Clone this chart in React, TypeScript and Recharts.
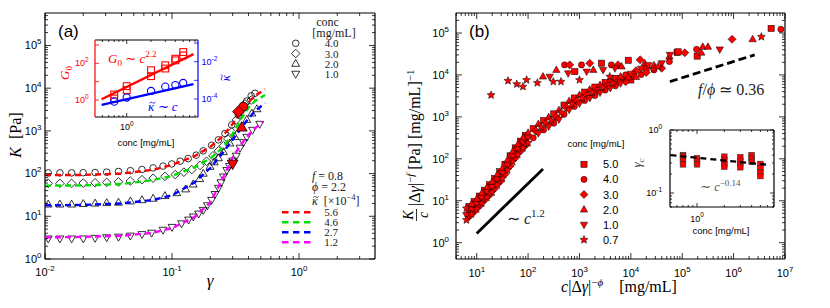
import React from 'react';
import { ScatterChart, Scatter, XAxis, YAxis } from 'recharts';

type Pt = [number, number];

const W = 830;
const H = 308;
const SANS = "'Liberation Sans', Arial, Helvetica, sans-serif";
const SERIF = "'Liberation Serif', 'Times New Roman', serif";

// ---------- panel (a): K vs gamma, one open symbol per concentration ----------
const concA = ['4.0', '3.0', '2.0', '1.0'];
const kindsA = ['circle', 'diamond', 'up', 'down'];
const kappaA = ['5.6', '4.6', '2.7', '1.2'];
const fitColors = ['#ff0000', '#00e000', '#0000ff', '#ff00ff'];

const kConc40: Pt[] = [
  [0.0106, 104], [0.0131, 104], [0.0162, 104], [0.02, 105], [0.0248, 106], [0.0306, 108],
  [0.0379, 112], [0.047, 117], [0.058, 125], [0.071, 136], [0.085, 150], [0.0995, 168],
  [0.116, 195], [0.134, 225], [0.155, 270], [0.176, 340], [0.205, 460], [0.232, 617],
  [0.261, 870], [0.295, 1380], [0.333, 2340], [0.36, 3500], [0.388, 5000], [0.42, 6600], [0.45, 7600],
];
const kConc30: Pt[] = [
  [0.0106, 59], [0.0131, 59], [0.0162, 59], [0.02, 60], [0.0248, 61], [0.0306, 62],
  [0.0379, 64], [0.047, 67], [0.058, 72], [0.071, 78], [0.088, 86], [0.106, 95],
  [0.124, 108], [0.143, 124], [0.166, 155], [0.187, 195], [0.21, 260], [0.232, 340],
  [0.254, 450], [0.275, 650], [0.295, 950], [0.32, 1800], [0.345, 2800], [0.375, 4300], [0.42, 5250],
];
const kConc20: Pt[] = [
  [0.0106, 19], [0.0131, 19], [0.0162, 19], [0.02, 19.5], [0.0248, 20], [0.0306, 20.5],
  [0.0379, 21], [0.047, 22.5], [0.058, 24], [0.071, 26], [0.088, 30], [0.109, 35],
  [0.128, 43], [0.147, 56], [0.165, 75], [0.176, 100], [0.199, 145], [0.215, 185],
  [0.232, 230], [0.254, 320], [0.285, 510], [0.313, 720], [0.354, 1200], [0.388, 1820],
  [0.425, 2570], [0.466, 3240],
];
const kConc10: Pt[] = [
  [0.0106, 3.0], [0.0131, 3.0], [0.0162, 3.0], [0.02, 3.0], [0.0248, 3.1], [0.0306, 3.2],
  [0.0379, 3.3], [0.047, 3.5], [0.058, 3.8], [0.069, 4.1], [0.085, 4.8], [0.1, 5.6],
  [0.119, 6.8], [0.135, 8.3], [0.147, 9.8], [0.162, 11.5], [0.176, 14], [0.19, 18],
  [0.205, 24], [0.218, 33], [0.232, 46], [0.243, 62], [0.254, 85], [0.27, 120],
  [0.283, 150], [0.3, 200], [0.32, 260], [0.343, 400], [0.365, 540], [0.388, 720],
  [0.43, 1050], [0.49, 1450],
];
const fit56: Pt[] = [
  [0.01, 92], [0.02, 93], [0.04, 100], [0.07, 122], [0.1, 160], [0.15, 255], [0.2, 420],
  [0.25, 750], [0.3, 1450], [0.35, 2800], [0.4, 4700], [0.45, 6600], [0.54, 9400],
];
const fit46: Pt[] = [
  [0.01, 52], [0.02, 53], [0.04, 57], [0.07, 70], [0.1, 88], [0.15, 140], [0.2, 225],
  [0.25, 400], [0.3, 850], [0.35, 1900], [0.4, 3500], [0.45, 5000], [0.54, 6900],
];
const fit27: Pt[] = [
  [0.01, 18], [0.02, 18.5], [0.04, 20], [0.07, 24], [0.1, 31], [0.15, 62], [0.2, 135],
  [0.25, 300], [0.3, 620], [0.35, 1150], [0.4, 1950], [0.45, 2900], [0.54, 4470],
];
const fit12: Pt[] = [
  [0.01, 3.2], [0.02, 3.3], [0.04, 3.5], [0.07, 4.1], [0.1, 5.3], [0.15, 9.5], [0.2, 21],
  [0.25, 75], [0.3, 240], [0.35, 480], [0.4, 800], [0.45, 1150], [0.52, 1650],
];
const critA: Pt[] = [[0.364, 3700], [0.333, 2820], [0.354, 1200], [0.3, 170]];

// inset (a): G0 and kappa vs concentration
const insetConc = [0.7, 1, 2, 3, 4, 5];
const g0Upper = [2.0, 5.7, 42, 78, 178, 410];
const g0Lower = [1.2, 3.5, 20, 52, 145, 270];
const kappaVals = [0.72e-4, 1.2e-4, 2.7e-4, 4.6e-4, 5.6e-4, 7.2e-4];
const g0Fit: Pt[] = [[0.49, 1.1], [6.7, 316]];
const kappaFit: Pt[] = [[0.49, 4.8e-5], [6.7, 6.3e-4]];

// ---------- panel (b): collapsed data, [log10 c|dg|^-phi, log10 K/c|dg|^-f] ----------
const concB = ['5.0', '4.0', '3.0', '2.0', '1.0', '0.7'];
const kindsB = ['square', 'circle', 'diamond', 'up', 'down', 'star'];
const b50: Pt[] = [
  [0.85, 0.86], [0.95, 0.98], [1.05, 1.11], [1.15, 1.25], [1.25, 1.38], [1.35, 1.53], [1.45, 1.69],
  [1.55, 1.87], [1.65, 2.07], [1.75, 2.26], [1.85, 2.42], [1.95, 2.56], [2.1, 2.72], [2.3, 2.91],
  [2.5, 3.07], [2.7, 3.28], [2.9, 3.45], [3.1, 3.59], [3.3, 3.71], [3.5, 3.82], [3.7, 3.92],
  [3.85, 3.9], [4.0, 3.88], [4.3, 4.18], [4.9, 4.54],
  [2.91, 4.08], [3.43, 4.28], [3.95, 4.35], [4.92, 4.55], [5.29, 4.45], [6.73, 5.11],
];
const b40: Pt[] = [
  [0.85, 0.75], [0.95, 0.87], [1.05, 0.98], [1.15, 1.12], [1.25, 1.25], [1.35, 1.4], [1.45, 1.56],
  [1.55, 1.74], [1.65, 1.94], [1.75, 2.13], [1.85, 2.29], [1.95, 2.43], [2.1, 2.5], [2.3, 2.69],
  [2.5, 2.85], [2.7, 3.06], [2.9, 3.25], [3.1, 3.39], [3.3, 3.51], [3.5, 3.64], [3.7, 3.74],
  [3.9, 4.0], [4.05, 3.99], [4.2, 4.01], [4.45, 4.12], [4.75, 4.32],
  [2.71, 4.24], [3.04, 4.24], [3.62, 4.24], [4.44, 4.16], [5.28, 4.61], [6.92, 5.09],
];
const b30: Pt[] = [
  [0.85, 0.62], [0.95, 0.74], [1.05, 0.87], [1.15, 1.01], [1.25, 1.14], [1.35, 1.29], [1.45, 1.45],
  [1.55, 1.63], [1.65, 1.83], [1.75, 2.02], [1.85, 2.18], [1.95, 2.32], [2.15, 2.66], [2.35, 2.84],
  [2.55, 3.0], [2.75, 3.22], [2.95, 3.38], [3.15, 3.52], [3.35, 3.64], [3.55, 3.75], [3.75, 3.85],
  [3.9, 3.84], [4.1, 4.1], [4.3, 4.06], [4.6, 4.16],
  [2.81, 4.24], [3.2, 4.28], [3.75, 4.24], [4.18, 4.36], [5.05, 4.53], [5.97, 4.85],
];
const b20: Pt[] = [
  [0.9, 0.92], [1.0, 1.04], [1.1, 1.18], [1.2, 1.32], [1.3, 1.45], [1.4, 1.62], [1.5, 1.77],
  [1.6, 1.97], [1.7, 2.17], [1.8, 2.34], [1.9, 2.5], [2.0, 2.62], [2.2, 2.83], [2.4, 2.99],
  [2.6, 3.16], [2.8, 3.38], [3.0, 3.52], [3.2, 3.65], [3.4, 3.76], [3.6, 3.87], [3.8, 3.96],
  [3.95, 3.94], [4.1, 3.95], [4.45, 4.23], [4.75, 4.44],
  [2.29, 3.96], [2.55, 4.12], [3.27, 4.12], [3.82, 4.2], [4.27, 4.28], [5.37, 4.53],
  [5.4, 4.67], [5.5, 4.67], [6.37, 4.85],
];
const b10: Pt[] = [
  [0.8, 0.66], [0.9, 0.79], [1.0, 0.93], [1.1, 1.07], [1.2, 1.21], [1.3, 1.33], [1.4, 1.51],
  [1.5, 1.66], [1.6, 1.86], [1.7, 2.06], [1.8, 2.23], [1.9, 2.39], [2.0, 2.51], [2.2, 2.61],
  [2.4, 2.77], [2.6, 2.94], [2.8, 3.17], [3.0, 3.32], [3.2, 3.45], [3.4, 3.58], [3.6, 3.69],
  [3.8, 3.8], [4.0, 4.03], [4.2, 4.15], [4.6, 4.28],
  [2.42, 3.96], [2.78, 4.04], [3.14, 4.08], [3.46, 4.12], [3.69, 4.16], [4.34, 4.24],
  [4.76, 4.48], [5.73, 4.61],
];
const b07: Pt[] = [
  [0.8, 0.82], [0.8, 0.54], [0.9, 0.68], [1.0, 0.8], [1.1, 0.94], [1.2, 1.08], [1.3, 1.2],
  [1.4, 1.38], [1.5, 1.53], [1.6, 1.73], [1.7, 1.93], [1.8, 2.1], [1.9, 2.26], [2.0, 2.38],
  [2.25, 2.76], [2.45, 2.92], [2.65, 3.11], [2.85, 3.31], [3.05, 3.45], [3.25, 3.58],
  [3.45, 3.7], [3.65, 3.8],
  [1.28, 3.52], [1.61, 3.86], [1.78, 3.78], [1.9, 3.72], [1.97, 3.88], [2.18, 3.81],
  [2.49, 3.84], [2.64, 3.84], [3.0, 3.88], [3.59, 3.96], [4.53, 4.2], [6.54, 4.91],
];
const slope12: Pt[] = [[1.0, 0.22], [2.29, 1.76]];
const slope036: Pt[] = [[4.76, 3.84], [6.41, 4.48]];

// inset (b): gamma_c vs concentration
const gcConc = [0.7, 1, 2, 3, 4, 5];
const gcValues = [
  [0.4, 0.38, 0.33, 0.285],
  [0.355, 0.315, 0.285],
  [0.377, 0.334, 0.289, 0.262],
  [0.37, 0.325, 0.289, 0.256],
  [0.4, 0.355, 0.314],
  [0.289, 0.246, 0.213, 0.186],
];
const gcFit: Pt[] = [[0.51, 0.4], [6.4, 0.278]];

// ---------- helpers ----------
const xy = (pts: Pt[]) => pts.map(([x, y]) => ({ x, y }));
const fromLog = (pts: Pt[]) => pts.map(([lx, ly]) => ({ x: 10 ** lx, y: 10 ** ly }));

function logTicks(lo: number, hi: number, minors = true) {
  const out: number[] = [];
  for (let e = Math.floor(lo); e <= Math.ceil(hi); e++) {
    for (let m = 1; m < 10; m++) {
      if (!minors && m > 1) continue;
      const v = m * 10 ** e;
      const l = Math.log10(v);
      if (l >= lo - 1e-9 && l <= hi + 1e-9) out.push(v);
    }
  }
  return out;
}

type Side = 'bottom' | 'top' | 'left' | 'right';
interface TickOpt {
  side: Side;
  major: number;
  minor: number;
  fs?: number;
  off?: number;
  color?: string;
  labels?: number[];
}

function tickRenderer(o: TickOpt) {
  return (p: any) => {
    const v = p.payload.value as number;
    const lg = Math.log10(v);
    const e = Math.round(lg);
    const isMajor = Math.abs(lg - e) < 1e-6;
    const len = isMajor ? o.major : o.minor;
    const { x, y } = p;
    const color = o.color || '#000';
    let line;
    if (o.side === 'bottom') line = <line x1={x} y1={y} x2={x} y2={y - len} />;
    else if (o.side === 'top') line = <line x1={x} y1={y} x2={x} y2={y + len} />;
    else if (o.side === 'left') line = <line x1={x} y1={y} x2={x + len} y2={y} />;
    else line = <line x1={x} y1={y} x2={x - len} y2={y} />;
    const fs = o.fs || 11;
    let label = null;
    if (isMajor && o.labels && o.labels.includes(e)) {
      const sup = <tspan dy={-fs * 0.45} fontSize={fs * 0.72}>{e < 0 ? `-${-e}` : `${e}`}</tspan>;
      const off = o.off || 0;
      const anchor = o.side === 'bottom' ? 'middle' : o.side === 'left' ? 'end' : 'start';
      const tx = o.side === 'bottom' ? x : o.side === 'left' ? x - off : x + off;
      const ty = o.side === 'bottom' ? y + off : y + fs * 0.35;
      label = (
        <text x={tx} y={ty} textAnchor={anchor} fontSize={fs} fontFamily={SANS} fill={color} stroke="none">
          <tspan>10</tspan>
          {sup}
        </text>
      );
    }
    return (
      <g>
        <g stroke={color} strokeWidth={0.8}>{line}</g>
        {label}
      </g>
    );
  };
}

const starPoints = (cx: number, cy: number, r: number) => {
  const pts: string[] = [];
  for (let i = 0; i < 10; i++) {
    const rr = i % 2 === 0 ? r : r * 0.45;
    const a = -Math.PI / 2 + (i * Math.PI) / 5;
    pts.push(`${cx + rr * Math.cos(a)},${cy + rr * Math.sin(a)}`);
  }
  return pts.join(' ');
};

function Mark({ cx, cy, kind, r, fill, stroke, sw }: any) {
  if (cx == null || cy == null || isNaN(cx) || isNaN(cy)) return <g />;
  const common = { fill, stroke, strokeWidth: sw };
  switch (kind) {
    case 'square':
      return <rect x={cx - r} y={cy - r} width={2 * r} height={2 * r} {...common} />;
    case 'diamond': {
      const d = r * 1.3;
      return <polygon points={`${cx},${cy - d} ${cx + d},${cy} ${cx},${cy + d} ${cx - d},${cy}`} {...common} />;
    }
    case 'up':
      return (
        <polygon
          points={`${cx},${cy - r * 1.3} ${cx + r * 1.2},${cy + r * 0.8} ${cx - r * 1.2},${cy + r * 0.8}`}
          {...common}
        />
      );
    case 'down':
      return (
        <polygon
          points={`${cx},${cy + r * 1.3} ${cx + r * 1.2},${cy - r * 0.8} ${cx - r * 1.2},${cy - r * 0.8}`}
          {...common}
        />
      );
    case 'star':
      return <polygon points={starPoints(cx, cy, r * 1.35)} {...common} />;
    default:
      return <circle cx={cx} cy={cy} r={r} {...common} />;
  }
}

const Empty = () => <g />;
const frame = { stroke: '#000', strokeWidth: 1.2 };
const abs: React.CSSProperties = { position: 'absolute', left: 0, top: 0 };

// axes are 1px thick; the margins below are one pixel short of the plot edges to make up for it
type Box = { top: number; right: number; bottom: number; left: number };
const m = (b: Box) => ({ top: b.top - 1, right: b.right - 1, bottom: b.bottom - 1, left: b.left - 1 });

// ---------- panel (a) main ----------
const A_X: [number, number] = [0.01, 10 ** 0.598];
const A_Y: [number, number] = [1, 10 ** 5.76];
const aXTicks = logTicks(-2, 0.598);
const aYTicks = logTicks(0, 5.76);

function PanelA() {
  const seriesA = [kConc40, kConc30, kConc20, kConc10];
  const fitsA = [fit56, fit46, fit27, fit12];
  const critData = critA.map(([x, y], i) => ({ x, y, kind: kindsA[i] }));
  return (
    <ScatterChart width={W} height={H} margin={m({ top: 13, right: 455, bottom: 49, left: 45 })}>
      <XAxis dataKey="x" type="number" scale="log" domain={A_X} allowDataOverflow ticks={aXTicks} interval={0}
        height={1} tickSize={0} tickMargin={0} tickLine={false} axisLine={frame}
        tick={tickRenderer({ side: 'bottom', major: 6, minor: 3, off: 17, labels: [-2, -1, 0] })} />
      <XAxis xAxisId="t" orientation="top" dataKey="x" type="number" scale="log" domain={A_X} allowDataOverflow
        ticks={aXTicks} interval={0} height={1} tickSize={0} tickMargin={0} tickLine={false} axisLine={frame}
        tick={tickRenderer({ side: 'top', major: 6, minor: 3 })} />
      <YAxis dataKey="y" type="number" scale="log" domain={A_Y} allowDataOverflow ticks={aYTicks} interval={0}
        width={1} tickSize={0} tickMargin={0} tickLine={false} axisLine={frame}
        tick={tickRenderer({ side: 'left', major: 6, minor: 3, off: 3.5, labels: [0, 1, 2, 3, 4, 5] })} />
      <YAxis yAxisId="r" orientation="right" dataKey="y" type="number" scale="log" domain={A_Y} allowDataOverflow
        ticks={aYTicks} interval={0} width={1} tickSize={0} tickMargin={0} tickLine={false} axisLine={frame}
        tick={tickRenderer({ side: 'right', major: 6, minor: 3 })} />
      {seriesA.map((s, i) => (
        <Scatter key={`s${i}`} data={xy(s)} isAnimationActive={false}
          shape={(p: any) => <Mark cx={p.cx} cy={p.cy} kind={kindsA[i]} r={3.3} fill="none" stroke="#000" sw={0.8} />} />
      ))}
      {fitsA.map((s, i) => (
        <Scatter key={`f${i}`} data={xy(s)} isAnimationActive={false} shape={Empty} lineType="joint"
          line={{ stroke: fitColors[i], strokeWidth: 2.4, strokeDasharray: '6 4', fill: 'none' }} />
      ))}
      <Scatter data={critData} isAnimationActive={false}
        shape={(p: any) => <Mark cx={p.cx} cy={p.cy} kind={p.payload.kind} r={4.5} fill="#f00" stroke="#000" sw={0.8} />} />
    </ScatterChart>
  );
}

// ---------- panel (a) inset ----------
const IA_X: [number, number] = [10 ** -0.392, 10 ** 0.882];
const IA_G: [number, number] = [10 ** -0.926, 10 ** 3.27];
const IA_K: [number, number] = [10 ** -4.965, 10 ** -0.836];

function InsetA() {
  const g0Pts = [
    ...insetConc.map((c, i) => ({ x: c, y: g0Upper[i] })),
    ...insetConc.map((c, i) => ({ x: c, y: g0Lower[i] })),
  ];
  const kPts = insetConc.map((c, i) => ({ x: c, y: kappaVals[i] }));
  const xt = logTicks(-0.392, 0.882);
  return (
    <ScatterChart width={W} height={H} margin={m({ top: 40, right: 632, bottom: 191, left: 95 })}>
      <XAxis dataKey="x" type="number" scale="log" domain={IA_X} allowDataOverflow ticks={xt} interval={0}
        height={1} tickSize={0} tickMargin={0} tickLine={false} axisLine={frame}
        tick={tickRenderer({ side: 'bottom', major: 4, minor: 2, off: 13, fs: 9, labels: [0] })} />
      <XAxis xAxisId="t" orientation="top" dataKey="x" type="number" scale="log" domain={IA_X} allowDataOverflow
        ticks={xt} interval={0} height={1} tickSize={0} tickMargin={0} tickLine={false} axisLine={frame}
        tick={tickRenderer({ side: 'top', major: 4, minor: 2 })} />
      <YAxis yAxisId="g" dataKey="y" type="number" scale="log" domain={IA_G} allowDataOverflow
        ticks={logTicks(-0.926, 3.27, false)} interval={0} width={1} tickSize={0} tickMargin={0} tickLine={false}
        axisLine={{ stroke: '#f00', strokeWidth: 1.2 }}
        tick={tickRenderer({ side: 'left', major: 4, minor: 2, off: 6.5, fs: 9, color: '#f00', labels: [0, 2] })} />
      <YAxis yAxisId="k" orientation="right" dataKey="y" type="number" scale="log" domain={IA_K} allowDataOverflow
        ticks={logTicks(-4.965, -0.836, false)} interval={0} width={1} tickSize={0} tickMargin={0} tickLine={false}
        axisLine={{ stroke: '#00f', strokeWidth: 1.2 }}
        tick={tickRenderer({ side: 'right', major: 4, minor: 2, off: 3.5, fs: 9, color: '#00f', labels: [-2, -4] })} />
      <Scatter yAxisId="g" data={g0Pts} isAnimationActive={false}
        shape={(p: any) => <Mark cx={p.cx} cy={p.cy} kind="square" r={3.4} fill="none" stroke="#f00" sw={1.1} />} />
      <Scatter yAxisId="k" data={kPts} isAnimationActive={false}
        shape={(p: any) => <Mark cx={p.cx} cy={p.cy} kind="circle" r={3.6} fill="none" stroke="#00f" sw={1.1} />} />
      <Scatter yAxisId="g" data={xy(g0Fit)} isAnimationActive={false} shape={Empty}
        line={{ stroke: '#f00', strokeWidth: 2.4, fill: 'none' }} />
      <Scatter yAxisId="k" data={xy(kappaFit)} isAnimationActive={false} shape={Empty}
        line={{ stroke: '#00f', strokeWidth: 2.4, fill: 'none' }} />
    </ScatterChart>
  );
}

// ---------- panel (b) main ----------
const B_X: [number, number] = [10 ** 0.597, 1e7];
const B_Y: [number, number] = [10 ** -0.389, 10 ** 5.477];
const bXTicks = logTicks(0.597, 7);
const bYTicks = logTicks(-0.389, 5.477);

function PanelB() {
  const seriesB = [b50, b40, b30, b20, b10, b07];
  return (
    <ScatterChart width={W} height={H} margin={m({ top: 13, right: 45, bottom: 49, left: 456 })}>
      <XAxis dataKey="x" type="number" scale="log" domain={B_X} allowDataOverflow ticks={bXTicks} interval={0}
        height={1} tickSize={0} tickMargin={0} tickLine={false} axisLine={frame}
        tick={tickRenderer({ side: 'bottom', major: 6, minor: 3, off: 17.5, labels: [1, 2, 3, 4, 5, 6, 7] })} />
      <XAxis xAxisId="t" orientation="top" dataKey="x" type="number" scale="log" domain={B_X} allowDataOverflow
        ticks={bXTicks} interval={0} height={1} tickSize={0} tickMargin={0} tickLine={false} axisLine={frame}
        tick={tickRenderer({ side: 'top', major: 6, minor: 3 })} />
      <YAxis dataKey="y" type="number" scale="log" domain={B_Y} allowDataOverflow ticks={bYTicks} interval={0}
        width={1} tickSize={0} tickMargin={0} tickLine={false} axisLine={frame}
        tick={tickRenderer({ side: 'left', major: 6, minor: 3, off: 7, labels: [0, 1, 2, 3, 4, 5] })} />
      <YAxis yAxisId="r" orientation="right" dataKey="y" type="number" scale="log" domain={B_Y} allowDataOverflow
        ticks={bYTicks} interval={0} width={1} tickSize={0} tickMargin={0} tickLine={false} axisLine={frame}
        tick={tickRenderer({ side: 'right', major: 6, minor: 3 })} />
      {seriesB.map((s, i) => (
        <Scatter key={`b${i}`} data={fromLog(s)} isAnimationActive={false}
          shape={(p: any) => <Mark cx={p.cx} cy={p.cy} kind={kindsB[i]} r={3.1} fill="#f00" stroke="#000" sw={0.5} />} />
      ))}
      <Scatter data={fromLog(slope12)} isAnimationActive={false} shape={Empty}
        line={{ stroke: '#000', strokeWidth: 2.8, fill: 'none' }} />
      <Scatter data={fromLog(slope036)} isAnimationActive={false} shape={Empty}
        line={{ stroke: '#000', strokeWidth: 2.8, strokeDasharray: '8 4', fill: 'none' }} />
    </ScatterChart>
  );
}

// ---------- panel (b) inset ----------
const IB_X: [number, number] = [10 ** -0.298, 10 ** 0.849];
const IB_Y: [number, number] = [10 ** -1.222, 1];

function InsetB() {
  const pts = gcConc.flatMap((c, i) => gcValues[i].map((g) => ({ x: c, y: g })));
  const xt = logTicks(-0.298, 0.849);
  const yt = logTicks(-1.222, 0);
  return (
    <ScatterChart width={W} height={H} margin={m({ top: 130, right: 56, bottom: 101, left: 670 })}>
      <XAxis dataKey="x" type="number" scale="log" domain={IB_X} allowDataOverflow ticks={xt} interval={0}
        height={1} tickSize={0} tickMargin={0} tickLine={false} axisLine={frame}
        tick={tickRenderer({ side: 'bottom', major: 4, minor: 2, off: 14.5, fs: 9, labels: [0] })} />
      <XAxis xAxisId="t" orientation="top" dataKey="x" type="number" scale="log" domain={IB_X} allowDataOverflow
        ticks={xt} interval={0} height={1} tickSize={0} tickMargin={0} tickLine={false} axisLine={frame}
        tick={tickRenderer({ side: 'top', major: 4, minor: 2 })} />
      <YAxis dataKey="y" type="number" scale="log" domain={IB_Y} allowDataOverflow ticks={yt} interval={0}
        width={1} tickSize={0} tickMargin={0} tickLine={false} axisLine={frame}
        tick={tickRenderer({ side: 'left', major: 4, minor: 2, off: 8, fs: 9, labels: [0, -1] })} />
      <YAxis yAxisId="r" orientation="right" dataKey="y" type="number" scale="log" domain={IB_Y} allowDataOverflow
        ticks={yt} interval={0} width={1} tickSize={0} tickMargin={0} tickLine={false} axisLine={frame}
        tick={tickRenderer({ side: 'right', major: 4, minor: 2 })} />
      <Scatter data={pts} isAnimationActive={false}
        shape={(p: any) => <Mark cx={p.cx} cy={p.cy} kind="square" r={2.8} fill="#f00" stroke="#333" sw={0.6} />} />
      <Scatter data={xy(gcFit)} isAnimationActive={false} shape={Empty}
        line={{ stroke: '#000', strokeWidth: 2.2, strokeDasharray: '6 4', fill: 'none' }} />
    </ScatterChart>
  );
}

// ---------- text, legends ----------
// small tilde accent drawn as a path above a kappa glyph
function Tilde({ x, y, w, color }: { x: number; y: number; w: number; color: string }) {
  return (
    <path d={`M${x},${y + 0.6} Q${x + w / 4},${y - 1.6} ${x + w / 2},${y} T${x + w},${y - 0.6}`}
      fill="none" stroke={color} strokeWidth={0.8} />
  );
}

function Overlay() {
  const it = { fontStyle: 'italic' as const };
  return (
    <svg width={W} height={H} style={{ ...abs, pointerEvents: 'none' }}>
      {/* panel labels */}
      <text x={58} y={37} fontFamily={SANS} fontSize={17}>(a)</text>
      <text x={469} y={37} fontFamily={SANS} fontSize={17}>(b)</text>

      {/* panel (a) axis titles */}
      <text transform="translate(21,135) rotate(-90)" textAnchor="middle" fontFamily={SERIF} fontSize={16}>
        <tspan {...it}>K</tspan>
        <tspan>{'\u2002[Pa]'}</tspan>
      </text>
      <text x={210} y={286} textAnchor="middle" fontFamily={SERIF} fontSize={17} {...it}>γ</text>

      {/* panel (a) concentration legend */}
      <g fontFamily={SERIF} fill="#222">
        <text textAnchor="middle" fontSize={12}>
          <tspan x={327.5} y={25.5}>conc</tspan>
          <tspan x={334} y={36.5}>[mg/mL]</tspan>
        </text>
        <text textAnchor="middle" fontSize={11}>
          {concA.map((t, i) => (
            <tspan key={t} x={331.5} y={47.3 + 10.2 * i}>{t}</tspan>
          ))}
        </text>
        {concA.map((t, i) => (
          <Mark key={t} cx={295.7} cy={43.3 + 10.2 * i} kind={kindsA[i]} r={3.3} fill="none" stroke="#000" sw={0.8} />
        ))}
      </g>

      {/* panel (a) fit legend */}
      <g fontFamily={SERIF} fill="#222">
        <text fontSize={12}>
          <tspan x={312} y={180} {...it}>f</tspan>
          <tspan>{' = 0.8'}</tspan>
          <tspan x={312} y={191} {...it}>ϕ</tspan>
          <tspan>{' = 2.2'}</tspan>
          <tspan x={312} y={204.5} {...it}>κ</tspan>
          <tspan>{'\u2002[×10'}</tspan>
          <tspan dy={-5} fontSize={8.5}>−4</tspan>
          <tspan dy={5}>]</tspan>
        </text>
        <text fontSize={11} textAnchor="middle">
          {kappaA.map((t, i) => (
            <tspan key={t} x={331} y={216 + 10 * i}>{t}</tspan>
          ))}
        </text>
        <Tilde x={313.2} y={197} w={5.5} color="#222" />
        {kappaA.map((t, i) => (
          <line key={t} x1={282} x2={311} y1={212.3 + 10 * i} y2={212.3 + 10 * i} stroke={fitColors[i]}
            strokeWidth={2.4} strokeDasharray="6.5 4.5" />
        ))}
      </g>

      {/* inset (a) texts */}
      <text x={108} y={63} fontFamily={SERIF} fontSize={13} fill="#f00">
        <tspan {...it}>G</tspan>
        <tspan dy={3} fontSize={9}>0</tspan>
        <tspan dy={-3}>{' ∼ '}</tspan>
        <tspan {...it}>c</tspan>
        <tspan dy={-6} fontSize={9}>2.2</tspan>
      </text>
      <text x={148} y={111} fontFamily={SERIF} fontSize={13} fill="#00f">
        <tspan {...it}>κ</tspan>
        <tspan>{' ∼ '}</tspan>
        <tspan {...it}>c</tspan>
      </text>
      <Tilde x={149.5} y={102.7} w={6} color="#00f" />
      <text transform="translate(69,73) rotate(-90)" textAnchor="middle" fontFamily={SERIF} fontSize={13} fill="#f00">
        <tspan {...it}>G</tspan>
        <tspan dy={3} fontSize={9}>0</tspan>
      </text>
      <g transform="translate(230,78) rotate(-90)">
        <text textAnchor="middle" fontFamily={SERIF} fontSize={13} fill="#00f" {...it}>κ</text>
        <Tilde x={-2.5} y={-8.3} w={6} color="#00f" />
      </g>
      <text x={146} y={145.5} textAnchor="middle" fontFamily={SANS} fontSize={9.5}>conc [mg/mL]</text>

      {/* panel (b) axis titles */}
      <g transform="translate(420,137) rotate(-90)" fontFamily={SERIF}>
        <text x={-78} y={-7} textAnchor="middle" fontSize={14} {...it}>K</text>
        <line x1={-84} x2={-72} y1={-3.5} y2={-3.5} stroke="#000" strokeWidth={0.8} />
        <text x={-78} y={8} textAnchor="middle" fontSize={14} {...it}>c</text>
        <text x={-69} y={0} fontSize={16}>
          <tspan>|Δ</tspan>
          <tspan {...it}>γ</tspan>
          <tspan>|</tspan>
          <tspan dy={-6} fontSize={11}>−</tspan>
          <tspan fontSize={11} {...it}>f</tspan>
          <tspan dy={6}>{' [Pa] [mg/mL]'}</tspan>
          <tspan dy={-6} fontSize={11}>−1</tspan>
        </text>
      </g>
      <text x={619} y={292} textAnchor="middle" fontFamily={SERIF} fontSize={16}>
        <tspan {...it}>c</tspan>
        <tspan>|Δ</tspan>
        <tspan {...it}>γ</tspan>
        <tspan>|</tspan>
        <tspan dy={-6} fontSize={11}>−</tspan>
        <tspan fontSize={11} {...it}>ϕ</tspan>
        <tspan dy={6}>{'\u2003[mg/mL]'}</tspan>
      </text>

      {/* panel (b) annotations */}
      <text x={698} y={95} fontFamily={SERIF} fontSize={16} fill="#222">
        <tspan {...it}>f</tspan>
        <tspan>/</tspan>
        <tspan {...it}>ϕ</tspan>
        <tspan>{' ≃ 0.36'}</tspan>
      </text>
      <text x={507} y={224} fontFamily={SERIF} fontSize={16} fill="#222">
        <tspan>{'∼ '}</tspan>
        <tspan {...it}>c</tspan>
        <tspan dy={-7} fontSize={11}>1.2</tspan>
      </text>

      {/* panel (b) legend */}
      <text fontFamily={SANS} fontSize={11}>
        <tspan x={596} y={146.5} textAnchor="middle" fontSize={9.5}>conc [mg/mL]</tspan>
        {concB.map((t, i) => (
          <tspan key={t} x={603} y={168.3 + 15.1 * i}>{t}</tspan>
        ))}
      </text>
      {concB.map((t, i) => (
        <Mark key={t} cx={584} cy={164.3 + 15.1 * i} kind={kindsB[i]} r={3.1} fill="#f00" stroke="#000" sw={0.5} />
      ))}

      {/* inset (b) texts */}
      <text transform="translate(641,163) rotate(-90)" textAnchor="middle" fontFamily={SERIF} fontSize={13} fill="#444">
        <tspan {...it}>γ</tspan>
        <tspan dy={3} fontSize={9} {...it}>c</tspan>
      </text>
      <text x={700} y={191} fontFamily={SERIF} fontSize={12.5} fill="#555">
        <tspan>{'∼ '}</tspan>
        <tspan {...it}>c</tspan>
        <tspan dy={-5} fontSize={9}>−0.14</tspan>
      </text>
      <text x={721} y={233.5} textAnchor="middle" fontFamily={SANS} fontSize={9.5}>conc [mg/mL]</text>
    </svg>
  );
}

export default function App() {
  return (
    <div style={{ ...abs, width: W, height: H, background: '#fff' }}>
      <div style={abs}><PanelA /></div>
      <div style={abs}><InsetA /></div>
      <div style={abs}><PanelB /></div>
      <div style={abs}><InsetB /></div>
      <Overlay />
    </div>
  );
}
